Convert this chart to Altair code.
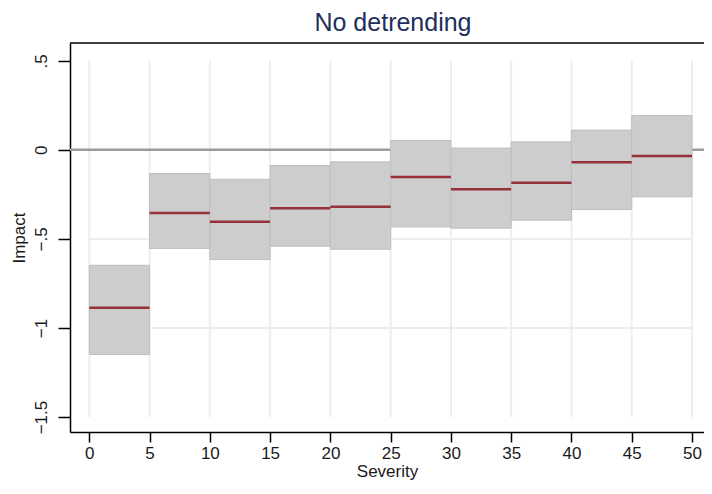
import altair as alt
import pandas as pd

# ---- data ----
bin_start = [0, 5, 10, 15, 20, 25, 30, 35, 40, 45]
bin_end = [5, 10, 15, 20, 25, 30, 35, 40, 45, 50]
estimate = [-0.886, -0.354, -0.404, -0.328, -0.320, -0.153, -0.221, -0.185, -0.069, -0.035]
ci_upper = [-0.648, -0.133, -0.165, -0.088, -0.067, 0.053, 0.010, 0.045, 0.111, 0.193]
ci_lower = [-1.149, -0.554, -0.616, -0.541, -0.558, -0.433, -0.440, -0.395, -0.335, -0.264]
x_ticks = [0, 5, 10, 15, 20, 25, 30, 35, 40, 45, 50]
y_ticks = [0.5, 0, -0.5, -1, -1.5]
y_grid = [-0.5, -1]
zero_line = [0]

W, H = 634, 389
XD = [-1.601, 50.996]
YD = [-1.584, 0.600]
FONT = "Liberation Sans"

df = pd.DataFrame({"start": bin_start, "end": bin_end, "est": estimate,
                   "hi": ci_upper, "lo": ci_lower})
xs = alt.Scale(domain=XD, nice=False, zero=False)
ys = alt.Scale(domain=YD, nice=False, zero=False)

x_axis = alt.Axis(values=x_ticks, title="Severity", grid=False, tickSize=10,
                  labelPadding=3, titlePadding=2)
y_axis = alt.Axis(values=y_ticks, title="Impact", grid=False, labelAngle=270,
                  labelAlign="center", labelBaseline="bottom", labelPadding=8,
                  titlePadding=4,
                  labelExpr="replace(format(datum.value, '~g'), '0.', '.')")

vgrid_df = pd.DataFrame({"x": x_ticks, "top": max(y_ticks), "bot": min(y_ticks)})
vgrid = alt.Chart(vgrid_df).mark_rule(color="#ededed", strokeWidth=2).encode(
    x=alt.X("x:Q", scale=xs, axis=x_axis),
    y=alt.Y("top:Q", scale=ys, axis=y_axis),
    y2="bot:Q",
)

hgrid_df = pd.DataFrame({"y": y_grid, "x0": min(x_ticks), "x1": max(x_ticks)})
hgrid = alt.Chart(hgrid_df).mark_rule(color="#ededed", strokeWidth=2).encode(
    y=alt.Y("y:Q", scale=ys),
    x=alt.X("x0:Q", scale=xs),
    x2="x1:Q",
)

zero = alt.Chart(pd.DataFrame({"y": zero_line})).mark_rule(
    color="#9c9c9c", strokeWidth=2.5).encode(
    y=alt.Y("y:Q", scale=ys),
    x=alt.value(0), x2=alt.value(W),
)

boxes = alt.Chart(df).mark_rect(fill="#cdcdcd", stroke="#bfbfbf", strokeWidth=1).encode(
    x=alt.X("start:Q", scale=xs),
    x2="end:Q",
    y=alt.Y("hi:Q", scale=ys),
    y2="lo:Q",
)

medians = alt.Chart(df).mark_rule(color="#96303a", strokeWidth=2.5).encode(
    x=alt.X("start:Q", scale=xs),
    x2="end:Q",
    y=alt.Y("est:Q", scale=ys),
)

top_frame = alt.Chart(pd.DataFrame({"y": zero_line})).mark_rule(
    color="black", strokeWidth=1.5).encode(
    x=alt.value(0), x2=alt.value(W), y=alt.value(0)
)

chart = alt.layer(vgrid, hgrid, zero, boxes, medians, top_frame).properties(
    width=W, height=H,
    title=alt.TitleParams("No detrending", font=FONT, fontSize=25, fontWeight="normal",
                          color="#1e2f5e", anchor="middle", offset=6, dx=6),
    autosize=alt.AutoSizeParams(type="none"),
    padding={"left": 62, "top": 35, "right": 0, "bottom": 50},
    background="white",
).configure_view(stroke=None).configure_axis(
    domainColor="black", domainWidth=1.5, tickColor="black", tickWidth=1.5,
    tickSize=12, labelFont=FONT, labelFontSize=17, labelColor="#1a1a1a",
    titleFont=FONT, titleFontSize=17, titleFontWeight="normal", titleColor="#1a1a1a",
)

chart.save("out.html", embed_options={"renderer": "svg", "actions": False})
